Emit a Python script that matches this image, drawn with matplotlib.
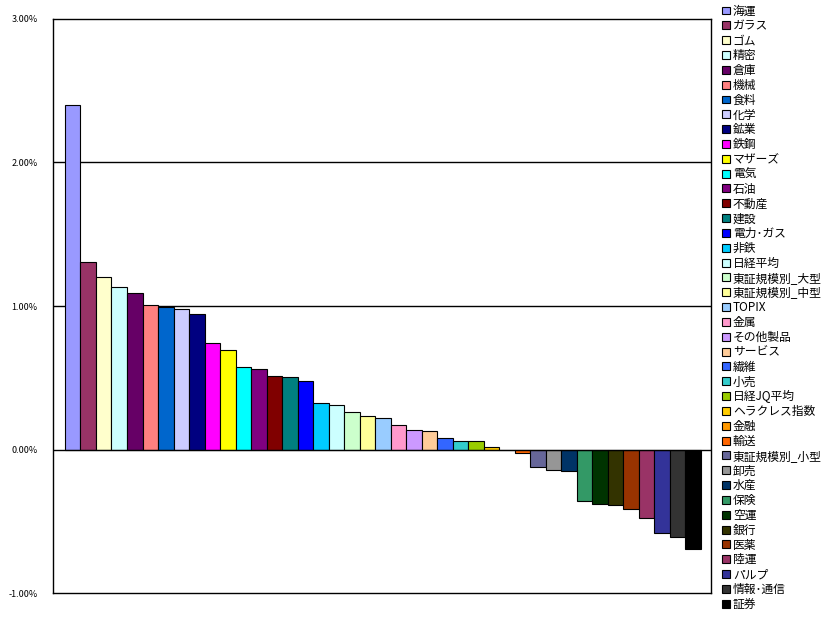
import matplotlib
matplotlib.use("Agg")
import matplotlib.pyplot as plt
from matplotlib.ticker import FuncFormatter

plt.rcParams['font.family'] = ['Noto Sans CJK JP', 'DejaVu Sans']

# 業種別騰落率 (%)
names = ['海運', 'ガラス', 'ゴム', '精密', '倉庫', '機械', '食料', '化学', '鉱業', '鉄鋼',
         'マザーズ', '電気', '石油', '不動産', '建設', '電力･ガス', '非鉄', '日経平均',
         '東証規模別_大型', '東証規模別_中型', 'TOPIX', '金属', 'その他製品', 'サービス',
         '繊維', '小売', '日経JQ平均', 'ヘラクレス指数', '金融', '輸送', '東証規模別_小型',
         '卸売', '水産', '保険', '空運', '銀行', '医薬', '陸運', 'パルプ', '情報･通信', '証券']
values = [2.40, 1.31, 1.20, 1.13, 1.09, 1.01, 0.995, 0.98, 0.945, 0.743,
          0.695, 0.576, 0.562, 0.515, 0.504, 0.479, 0.326, 0.309, 0.263, 0.235,
          0.221, 0.172, 0.137, 0.130, 0.081, 0.061, 0.061, 0.019, -0.005, -0.027,
          -0.12, -0.14, -0.148, -0.357, -0.378, -0.385, -0.413, -0.476, -0.58, -0.608, -0.69]
colors = ['#9999FF', '#993366', '#FFFFCC', '#CCFFFF', '#660066', '#FF8080', '#0066CC',
          '#CCCCFF', '#000080', '#FF00FF', '#FFFF00', '#00FFFF', '#800080', '#800000',
          '#008080', '#0000FF', '#00CCFF', '#CCFFFF', '#CCFFCC', '#FFFF99', '#99CCFF',
          '#FF99CC', '#CC99FF', '#FFCC99', '#3366FF', '#33CCCC', '#99CC00', '#FFCC00',
          '#FF9900', '#FF6600', '#666699', '#969696', '#003366', '#339966', '#003300',
          '#333300', '#993300', '#993366', '#333399', '#333333', '#000000']

fig = plt.figure(figsize=(8.32, 6.2), dpi=100)
ax = fig.add_axes([0.0637, 0.0435, 0.7909, 0.9259])

for i in range(len(names)):
    ax.bar(i, values[i], width=1.0, color=colors[i], edgecolor='black',
           linewidth=0.8, label=names[i], zorder=3)

ax.set_ylim(-1, 3)
ax.set_xlim(-1.27, len(names) - 0.5 + 0.65)
ax.set_yticks([-1, 0, 1, 2, 3])
ax.yaxis.set_major_formatter(FuncFormatter(lambda v, p: '%.2f%%' % v))
ax.tick_params(axis='y', length=0, pad=11, labelsize=6.5)
ax.set_xticks([])
for y in [1, 2]:
    ax.axhline(y, color='black', linewidth=1, zorder=1)
ax.axhline(0, color='black', linewidth=1, zorder=4)
for s in ax.spines.values():
    s.set_color('black')
    s.set_linewidth(1)

leg = ax.legend(loc='upper left', bbox_to_anchor=(1.017, 1.025), frameon=False,
                fontsize=8.5, handlelength=0.65, handleheight=0.65, handletextpad=0.25,
                labelspacing=0.155, borderaxespad=0, borderpad=0)

plt.savefig('out.png', dpi=100)
